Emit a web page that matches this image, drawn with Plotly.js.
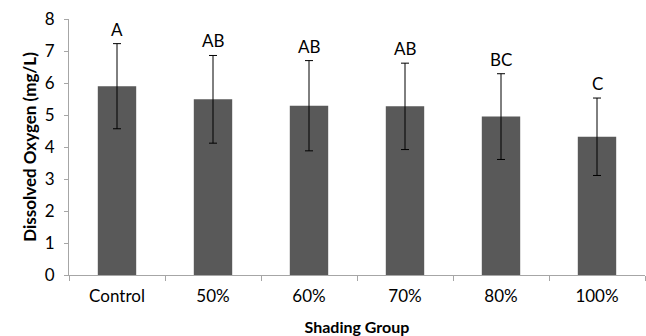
<!DOCTYPE html>
<html>
<head>
<meta charset="utf-8">
<script src="https://cdn.plot.ly/plotly-3.0.1.min.js"></script>
<style>html,body{margin:0;padding:0;background:#fff;}#chart{width:646px;height:336px;}</style>
</head>
<body>
<div id="chart"></div>
<script>
var categories = ["Control", "50%", "60%", "70%", "80%", "100%"];
var means = [5.9, 5.49, 5.29, 5.27, 4.95, 4.32];
var errors = [1.33, 1.37, 1.41, 1.35, 1.34, 1.21];
var letters = ["A", "AB", "AB", "AB", "BC", "C"];
var yTicks = [0, 1, 2, 3, 4, 5, 6, 7, 8];

var FONT = "Lato, Carlito, 'Open Sans', sans-serif";

var trace = {
  type: "bar",
  x: categories,
  y: means,
  width: 0.4,
  marker: {color: "#595959", line: {width: 0}},
  error_y: {type: "data", array: errors, visible: true, color: "#000000", thickness: 1, width: 4},
  hoverinfo: "skip"
};

var annotations = categories.map(function (c, i) {
  return {
    x: c, y: means[i] + errors[i], xref: "x", yref: "y",
    text: letters[i], showarrow: false, yanchor: "bottom", yshift: 2,
    font: {family: FONT, size: 17, color: "#000"}
  };
});

var layout = {
  width: 646, height: 336,
  margin: {l: 69, r: 1, t: 19, b: 61},
  paper_bgcolor: "#fff", plot_bgcolor: "#fff",
  showlegend: false,
  bargap: 0.6,
  font: {family: FONT, size: 17, color: "#000"},
  xaxis: {
    type: "category",
    tickson: "boundaries",
    ticks: "outside", ticklen: 5, tickcolor: "#a6a6a6",
    showline: true, linecolor: "#a6a6a6", linewidth: 1,
    showgrid: false, zeroline: false,
    ticklabelstandoff: 6,
    tickfont: {family: FONT, size: 17, color: "#000"},
    title: {text: "<b>Shading Group</b>", font: {family: FONT, size: 16, color: "#000"}, standoff: 18}
  },
  yaxis: {
    range: [0, 8],
    tickvals: yTicks,
    ticks: "outside", ticklen: 4, tickcolor: "#a6a6a6",
    showline: true, linecolor: "#a6a6a6", linewidth: 1,
    showgrid: false, zeroline: false,
    ticklabelstandoff: 6,
    tickfont: {family: FONT, size: 17, color: "#000"},
    title: {text: "<b>Dissolved Oxygen (mg/L)</b>", font: {family: FONT, size: 17, color: "#000"}, standoff: 3}
  },
  annotations: annotations
};

Plotly.newPlot("chart", [trace], layout, {displayModeBar: false, staticPlot: true});
</script>
</body>
</html>
